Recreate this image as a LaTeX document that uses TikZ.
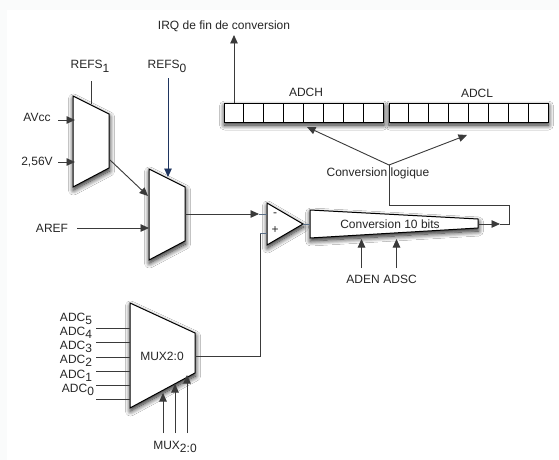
\documentclass[tikz,border=0pt]{standalone}
\usepackage{fontspec}
\setmainfont{Liberation Sans}
\usetikzlibrary{arrows.meta,shadows.blur}
\definecolor{wire}{HTML}{3A3A3A}
\definecolor{navyw}{HTML}{1F3560}
\definecolor{stub}{HTML}{5A6E85}
\definecolor{margincol}{HTML}{FAFBFB}
\newcommand{\lowsub}[1]{\raisebox{-0.55ex}{#1}}
\tikzset{
  txt/.style={font=\fontsize{12}{14}\selectfont,text=black!85,inner sep=0pt,anchor=base},
  block/.style={draw=black,line width=1pt,fill=white,line join=miter,blur shadow={shadow xshift=0.5pt,shadow yshift=-3pt,shadow blur steps=10,shadow blur radius=5pt,shadow opacity=90}},
  wireline/.style={draw=wire,line width=0.9pt},
  arrowline/.style={wireline,-{Triangle[length=8.5pt,width=7.5pt]}},
}
\begin{document}
\begin{tikzpicture}[x=1pt,y=-1pt]
\useasboundingbox (0,0) rectangle (559,460);
\fill[margincol] (0,0) rectangle (559,460);
\fill[white] (7,10) rectangle (559,460);
% coordinates
\coordinate (irqs) at (234,103); \coordinate (irqe) at (234,35);
\coordinate (r1) at (91,81); \coordinate (r1e) at (91,104);
\coordinate (r0) at (168,78); \coordinate (r0e) at (168,177);
\coordinate (av) at (58,120); \coordinate (ave) at (75,120);
\coordinate (v2) at (58,162); \coordinate (v2e) at (75,162);
\coordinate (m1o) at (110,160); \coordinate (m2i) at (148,196);
\coordinate (arefs) at (77,228); \coordinate (arefe) at (149,228);
\coordinate (m2o) at (185,214); \coordinate (cmpm) at (259,214); \coordinate (cmpms) at (267,214);
\coordinate (cmpp) at (267,233); \coordinate (j1) at (260,233); \coordinate (j2) at (260,356); \coordinate (m3o) at (195,356);
\coordinate (cmpo) at (303,224); \coordinate (convi) at (310,224);
\coordinate (convo) at (478,224); \coordinate (conve) at (500,224); \coordinate (c1) at (509,224); \coordinate (c2) at (509,205); \coordinate (c3) at (389,205); \coordinate (c4) at (389,165);
\coordinate (ha) at (307,127); \coordinate (la) at (467,135);
% blocks
\draw[block] (73,96) -- (109,114) -- (109,168) -- (73,187) -- cycle;
\draw[block] (149,169) -- (185,187) -- (185,241) -- (149,260) -- cycle;
\draw[block] (267,203) -- (303,224) -- (267,245) -- cycle;
\draw[block] (310,210) -- (478,219) -- (478,228) -- (310,238) -- cycle;
\draw[block] (130,303) -- (195,333) -- (195,373) -- (130,408) -- cycle;
\draw[block] (224,103) rectangle (383,122);
\draw[block] (389,103) rectangle (548,122);
\foreach \i in {1,...,7}{
  \draw[black,line width=0.9pt] ({224+\i*159/8},103) -- ({224+\i*159/8},122);
  \draw[black,line width=0.9pt] ({389+\i*159/8},103) -- ({389+\i*159/8},122);
}
% connectors
\draw[arrowline] (irqs) -- (irqe);
\draw[wireline] (r1) -- (r1e);
\draw[draw=navyw,line width=0.9pt,-{Triangle[length=8.5pt,width=7.5pt]}] (r0) -- (r0e);
\draw[arrowline] (av) -- (ave);
\draw[arrowline] (v2) -- (v2e);
\draw[arrowline] (m1o) -- (m2i);
\draw[arrowline] (arefs) -- (arefe);
\draw[arrowline] (m2o) -- (cmpm);
\draw[draw=stub,line width=0.9pt] (cmpm) -- (cmpms);
\draw[wireline] (m3o) -- (j2) -- (j1);
\draw[draw=stub,line width=0.9pt] (j1) -- (cmpp);
\draw[draw=stub,line width=0.9pt] (cmpo) -- (convi);
\draw[arrowline] (convo) -- (conve);
\draw[wireline] (conve) -- (c1) -- (c2) -- (c3) -- (c4);
\draw[arrowline] (c4) -- (ha);
\draw[arrowline] (c4) -- (la);
\coordinate (en) at (361.5,268); \coordinate (ene) at (361.5,239);
\coordinate (sc) at (396.5,268); \coordinate (sce) at (396.5,239);
\draw[arrowline] (en) -- (ene);
\draw[arrowline] (sc) -- (sce);
\coordinate (ma) at (163,433); \coordinate (mae) at (163,393);
\coordinate (mb) at (175,433); \coordinate (mbe) at (175,384);
\coordinate (mc) at (187,433); \coordinate (mce) at (187,375);
\draw[arrowline] (ma) -- (mae);
\draw[arrowline] (mb) -- (mbe);
\draw[arrowline] (mc) -- (mce);
\foreach \n/\y in {a/328,b/342.5,c/357,d/371,e/385,f/399}{
  \coordinate (in\n) at (96,\y); \coordinate (ine\n) at (130,\y);
  \draw[wireline] (in\n) -- (ine\n);
}
% labels
\node[txt] (irq) at (224,30) {IRQ de fin de conversion};
\node[txt] (lr1) at (90,69) {REFS\lowsub{1}};
\node[txt] (lr0) at (167,69) {REFS\lowsub{0}};
\node[txt] (lav) at (37,121) {AVcc};
\node[txt] (l256) at (37,165) {2,56V};
\node[txt] (laref) at (52,232) {AREF};
\node[txt] (ladch) at (306,96) {ADCH};
\node[txt] (ladcl) at (477,97) {ADCL};
\node[txt] (lconv) at (378,176) {Conversion logique};
\node[txt] (lc10) at (390,228) {Conversion 10 bits};
\node[txt] (minus) at (275,216) {-};
\node[txt] (plus) at (275,233) {+};
\node[txt] (laden) at (363,283) {ADEN};
\node[txt] (ladsc) at (400,283) {ADSC};
\node[txt] (lmux) at (162,360) {MUX2:0};
\node[txt] (lmuxb) at (175,449) {MUX\lowsub{2:0}};
\node[txt] (a5) at (76,321) {ADC\lowsub{5}};
\node[txt] (a4) at (76,335) {ADC\lowsub{4}};
\node[txt] (a3) at (76,349) {ADC\lowsub{3}};
\node[txt] (a2) at (76,363) {ADC\lowsub{2}};
\node[txt] (a1) at (76,378) {ADC\lowsub{1}};
\node[txt] (a0) at (78,392) {ADC\lowsub{0}};
\end{tikzpicture}
\end{document}
